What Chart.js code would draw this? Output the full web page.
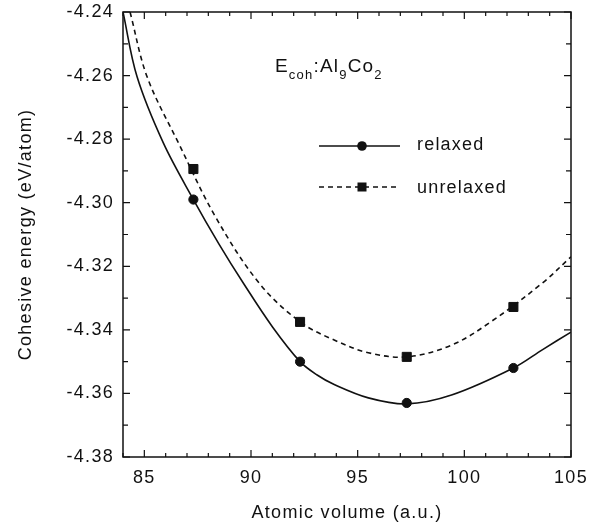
<!DOCTYPE html>
<html>
<head>
<meta charset="utf-8">
<script src="https://cdn.jsdelivr.net/npm/chart.js@4/dist/chart.umd.min.js"></script>
<style>
  html, body { margin: 0; background: #fff; }
  #wrap { width: 607px; height: 529px; }
</style>
</head>
<body>
<div id="wrap"><canvas id="chart"></canvas></div>
<script>
// computed points (atomic volume in a.u., cohesive energy in eV/atom)
const volumes = [87.3, 92.3, 97.3, 102.3];
const relaxedE = [-4.299, -4.350, -4.363, -4.352];
const unrelaxedE = [-4.2894, -4.3375, -4.3485, -4.3328];

// fitted curves
const relaxedFitV = [84.0, 84.66, 85.89, 87.3, 88.5, 89.66, 91.0, 92.3, 93.1, 93.9, 95.5, 97.3, 99.4, 102.3, 103.67, 105.0];
const relaxedFitE = [-4.240, -4.2604, -4.2812, -4.299, -4.3130, -4.3255, -4.3390, -4.350, -4.3542, -4.3572, -4.3614, -4.3633, -4.3605, -4.352, -4.3462, -4.3407];
const unrelaxedFitV = [84.33, 85.13, 86.6, 88.34, 90.37, 92.3, 93.9, 95.5, 97.3, 99.4, 101.3, 103.67, 105.0];
const unrelaxedFitE = [-4.240, -4.2604, -4.2812, -4.3045, -4.3252, -4.3375, -4.3432, -4.3472, -4.3485, -4.3448, -4.3372, -4.3252, -4.317];

const xTicks = [85, 90, 95, 100, 105];
const yTicks = [-4.38, -4.36, -4.34, -4.32, -4.30, -4.28, -4.26, -4.24];

const FONT = "'Liberation Sans', Arial, sans-serif";
const INK = "#111";

const pts = (xs, ys) => xs.map((v, i) => ({ x: v, y: ys[i] }));

// inward ticks on all four sides + frame
const framePlugin = {
  id: "frame",
  afterDraw(chart) {
    const { ctx, chartArea: a, scales: { x, y } } = chart;
    ctx.save();
    ctx.strokeStyle = INK;
    ctx.lineWidth = 1.5;
    ctx.strokeRect(a.left, a.top, a.right - a.left, a.bottom - a.top);
    ctx.lineWidth = 1.2;
    ctx.beginPath();
    for (let v = Math.ceil(x.min); v <= x.max; v++) {
      const px = x.getPixelForValue(v);
      const len = v % 5 === 0 ? 7 : 4;
      ctx.moveTo(px, a.bottom); ctx.lineTo(px, a.bottom - len);
      ctx.moveTo(px, a.top); ctx.lineTo(px, a.top + len);
    }
    for (let i = 0; i <= 14; i++) {
      const v = y.min + i * 0.01;
      const py = y.getPixelForValue(v);
      const len = i % 2 === 0 ? 7 : 5;
      ctx.moveTo(a.left, py); ctx.lineTo(a.left + len, py);
      ctx.moveTo(a.right, py); ctx.lineTo(a.right - len, py);
    }
    ctx.stroke();
    ctx.restore();
  }
};

function drawRuns(ctx, x, y, runs) {
  for (const r of runs) {
    ctx.font = r.size + "px " + FONT;
    ctx.fillText(r.t, x, y + (r.dy || 0));
    x += ctx.measureText(r.t).width;
  }
}

// legend block and the E_coh label
const notesPlugin = {
  id: "notes",
  afterDraw(chart) {
    const ctx = chart.ctx;
    ctx.save();
    ctx.letterSpacing = "1.2px";
    ctx.fillStyle = INK;
    ctx.strokeStyle = INK;
    ctx.textBaseline = "alphabetic";
    drawRuns(ctx, 275, 72, [
      { t: "E", size: 19 }, { t: "coh", size: 13, dy: 7 }, { t: ":", size: 19 },
      { t: "Al", size: 19 }, { t: "9", size: 13, dy: 7 }, { t: "Co", size: 19 }, { t: "2", size: 13, dy: 7 }
    ]);

    ctx.lineWidth = 1.5;
    ctx.beginPath(); ctx.moveTo(319, 146); ctx.lineTo(400, 146); ctx.stroke();
    ctx.beginPath(); ctx.arc(362, 146, 4.8, 0, Math.PI * 2); ctx.fill();
    ctx.setLineDash([5, 4]);
    ctx.beginPath(); ctx.moveTo(319, 187); ctx.lineTo(398, 187); ctx.stroke();
    ctx.setLineDash([]);
    ctx.fillRect(357.5, 182.5, 9, 9);

    ctx.font = "18px " + FONT;
    ctx.textBaseline = "middle";
    ctx.fillText("relaxed", 417, 145);
    ctx.fillText("unrelaxed", 417, 188);
    ctx.restore();
  }
};

const spacingPlugin = {
  id: "spacing",
  beforeDraw(chart) { chart.ctx.letterSpacing = "1.3px"; }
};

new Chart(document.getElementById("chart"), {
  type: "scatter",
  data: {
    datasets: [
      {
        label: "relaxed fit", data: pts(relaxedFitV, relaxedFitE), showLine: true,
        pointRadius: 0, borderColor: INK, borderWidth: 1.6, tension: 0.35
      },
      {
        label: "unrelaxed fit", data: pts(unrelaxedFitV, unrelaxedFitE), showLine: true,
        pointRadius: 0, borderColor: INK, borderWidth: 1.6, borderDash: [5, 4], tension: 0.35
      },
      {
        label: "relaxed", data: pts(volumes, relaxedE), pointStyle: "circle",
        pointRadius: 4.6, backgroundColor: INK, borderColor: INK, borderWidth: 1
      },
      {
        label: "unrelaxed", data: pts(volumes, unrelaxedE), pointStyle: "rect",
        pointRadius: 6.4, backgroundColor: INK, borderColor: INK, borderWidth: 1
      }
    ]
  },
  options: {
    responsive: true,
    maintainAspectRatio: false,
    animation: false,
    events: [],
    layout: { padding: { top: 12, right: 36, bottom: 0, left: 0 } },
    plugins: { legend: { display: false }, tooltip: { enabled: false } },
    scales: {
      x: {
        type: "linear", min: 84, max: 105,
        afterBuildTicks: (s) => { s.ticks = xTicks.map((v) => ({ value: v })); },
        afterFit: (s) => { s.height = 72; s.paddingLeft = 0; s.paddingRight = 0; },
        grid: { display: false, drawTicks: false }, border: { display: false },
        ticks: { color: INK, padding: 10, font: { family: FONT, size: 18 } },
        title: {
          display: true, text: "Atomic volume (a.u.)", color: INK,
          font: { family: FONT, size: 18 }, padding: { top: 0, bottom: 5 }
        }
      },
      y: {
        type: "linear", min: -4.38, max: -4.24,
        afterBuildTicks: (s) => { s.ticks = yTicks.map((v) => ({ value: v })); },
        afterFit: (s) => { s.width = 123; s.paddingTop = 0; s.paddingBottom = 0; },
        grid: { display: false, drawTicks: false }, border: { display: false },
        ticks: {
          color: INK, padding: 9, font: { family: FONT, size: 18 },
          callback: (v) => v.toFixed(2)
        },
        title: {
          display: true, text: "Cohesive energy (eV/atom)", color: INK,
          font: { family: FONT, size: 18 }, padding: { top: 15, bottom: 0 }
        }
      }
    }
  },
  plugins: [spacingPlugin, framePlugin, notesPlugin]
});
</script>
</body>
</html>
